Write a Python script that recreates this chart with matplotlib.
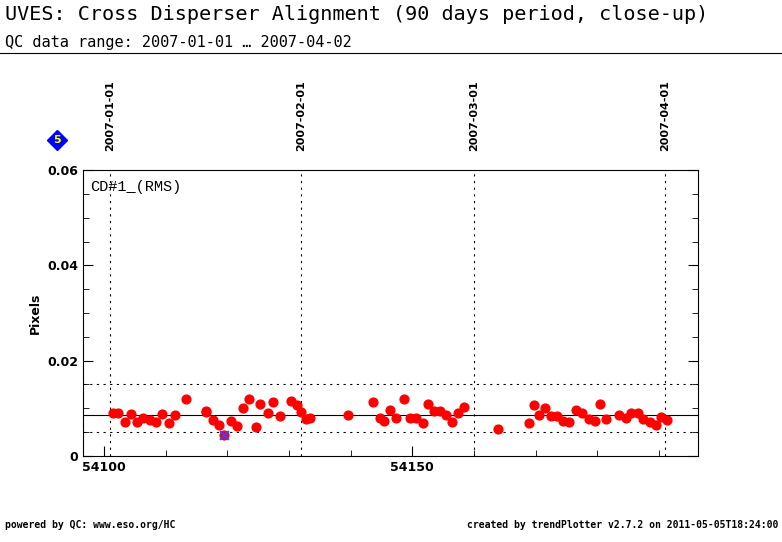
import matplotlib
matplotlib.use("Agg")
import matplotlib.pyplot as plt
from matplotlib.ticker import MultipleLocator

mjd = [54101.5, 54102.3, 54103.4, 54104.4, 54105.4, 54106.4, 54107.5, 54108.4,
       54109.5, 54110.5, 54111.5, 54113.4, 54116.5, 54116.6, 54117.7, 54118.6,
       54120.6, 54121.6, 54122.5, 54123.5, 54124.6, 54125.4, 54126.6, 54127.5,
       54128.5, 54130.4, 54131.4, 54131.9, 54132.7, 54133.4, 54139.6, 54143.6,
       54144.7, 54145.5, 54146.4, 54147.3, 54148.6, 54149.6, 54150.6, 54151.7,
       54152.5, 54153.5, 54154.5, 54155.5, 54156.4, 54157.4, 54158.4, 54163.9,
       54168.9, 54169.8, 54170.5, 54171.5, 54172.5, 54173.5, 54174.5, 54175.4,
       54176.5, 54177.6, 54178.6, 54179.6, 54180.4, 54181.4, 54183.5, 54184.6,
       54185.5, 54186.6, 54187.5, 54188.5, 54189.5, 54190.4, 54191.4]
rms = [0.0090, 0.0090, 0.0072, 0.0088, 0.0071, 0.0080, 0.0076, 0.0071,
       0.0088, 0.0069, 0.0085, 0.0119, 0.0094, 0.0092, 0.0076, 0.0065,
       0.0074, 0.0063, 0.0101, 0.0120, 0.0061, 0.0109, 0.0090, 0.0113,
       0.0083, 0.0115, 0.0106, 0.0093, 0.0078, 0.0080, 0.0085, 0.0114,
       0.0080, 0.0074, 0.0096, 0.0080, 0.0120, 0.0080, 0.0080, 0.0069,
       0.0109, 0.0094, 0.0094, 0.0085, 0.0070, 0.0090, 0.0102, 0.0056,
       0.0069, 0.0107, 0.0085, 0.0101, 0.0083, 0.0083, 0.0074, 0.0071,
       0.0097, 0.0090, 0.0077, 0.0073, 0.0109, 0.0078, 0.0085, 0.0080,
       0.0090, 0.0090, 0.0078, 0.0071, 0.0065, 0.0081, 0.0076]
flagged_mjd = [54119.5]
flagged_rms = [0.0043]
mean_val = 0.0086
limits = [0.0050, 0.0151]
month_mjd = [54101, 54132, 54160, 54191]
month_labels = ["2007-01-01", "2007-02-01", "2007-03-01", "2007-04-01"]

mono = "DejaVu Sans Mono"
fig = plt.figure(figsize=(7.82, 5.42), dpi=100)
ax = fig.add_axes([0.106, 0.159, 0.787, 0.527])

ax.axhline(mean_val, color="black", lw=0.8)
for lim in limits:
    ax.axhline(lim, color="black", lw=0.8, ls=(0, (2, 4)))
for m in month_mjd:
    ax.axvline(m, color="black", lw=0.8, ls=(0, (2, 4)))
ax.scatter(mjd, rms, s=40, color="red", zorder=3)
ax.scatter(flagged_mjd, flagged_rms, s=40, color="red", zorder=3)
ax.scatter(flagged_mjd, flagged_rms, s=40, marker="x", color="#4040ff", zorder=4)

ax.set_xlim(54096.6, 54196.4)
ax.set_ylim(0, 0.06)
ax.xaxis.set_major_locator(MultipleLocator(50))
ax.xaxis.set_minor_locator(MultipleLocator(10))
ax.yaxis.set_major_locator(MultipleLocator(0.02))
ax.yaxis.set_minor_locator(MultipleLocator(0.005))
ax.tick_params(which="both", direction="in", top=True, right=True)
ax.tick_params(which="major", length=7)
ax.tick_params(which="minor", length=4)
ax.set_xticks([54100, 54150])
ax.set_xticklabels(["54100", "54150"], fontsize=9, fontweight="bold")
ax.set_yticks([0, 0.02, 0.04, 0.06])
ax.set_yticklabels(["0", "0.02", "0.04", "0.06"], fontsize=9, fontweight="bold")
ax.set_ylabel("Pixels", fontsize=9, fontweight="bold")
ax.text(0.012, 0.965, "CD#1_(RMS)", transform=ax.transAxes, ha="left", va="top",
        family="Liberation Mono", fontsize=11)

top = ax.twiny()
top.set_xlim(ax.get_xlim())
top.set_xticks(month_mjd)
top.set_xticklabels(month_labels, rotation=90, fontsize=8, fontweight="bold")
top.tick_params(length=0, pad=14)
for s in top.spines.values():
    s.set_visible(False)

fig.text(0.006, 0.99, "UVES: Cross Disperser Alignment (90 days period, close-up)",
         family=mono, fontsize=14.5, va="top")
fig.text(0.006, 0.935, "QC data range: 2007-01-01 \u2026 2007-04-02",
         family=mono, fontsize=11, va="top")
fig.add_artist(plt.Line2D([0, 1], [0.903, 0.903], color="black", lw=0.8,
                          transform=fig.transFigure))
fig.add_artist(plt.Line2D([0.073], [0.742], marker="D", ms=10, color="blue",
                          transform=fig.transFigure))
fig.text(0.073, 0.742, "5", ha="center", va="center", fontsize=8,
         fontweight="bold", color="yellow")
fig.text(0.006, 0.025, "powered by QC: www.eso.org/HC", family=mono,
         fontsize=7, fontweight="bold")
fig.text(0.995, 0.025, "created by trendPlotter v2.7.2 on 2011-05-05T18:24:00",
         family=mono, fontsize=7, fontweight="bold", ha="right")

fig.savefig("out.png", dpi=100)
